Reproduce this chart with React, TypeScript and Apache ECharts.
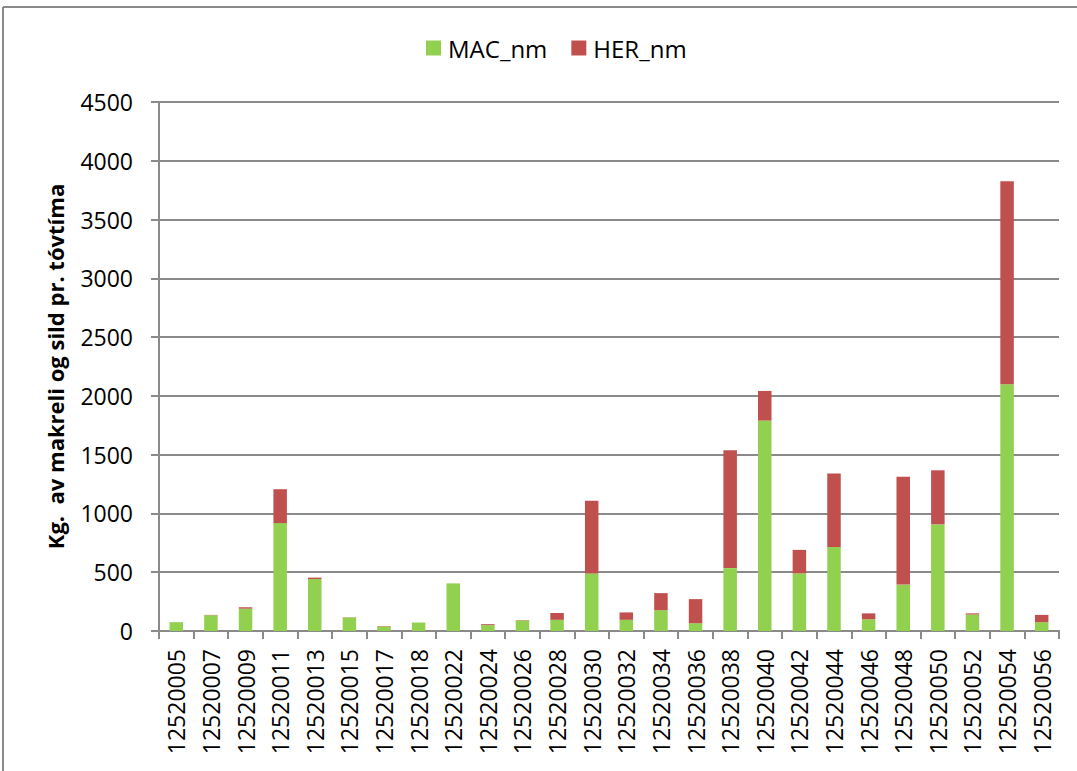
import React, { useEffect, useRef } from "react";
import * as echarts from "echarts";

const categories = [
  "12520005", "12520007", "12520009", "12520011", "12520013", "12520015",
  "12520017", "12520018", "12520022", "12520024", "12520026", "12520028",
  "12520030", "12520032", "12520034", "12520036", "12520038", "12520040",
  "12520042", "12520044", "12520046", "12520048", "12520050", "12520052",
  "12520054", "12520056",
];
const macValues = [
  75, 134, 190, 918, 442, 115, 38, 72, 405, 50, 90, 95,
  490, 95, 177, 66, 535, 1790, 490, 715, 100, 395, 907, 140,
  2100, 75,
];
const herValues = [
  0, 3, 12, 288, 12, 2, 4, 0, 0, 8, 3, 58,
  618, 63, 145, 205, 1003, 252, 200, 625, 50, 918, 460, 10,
  1725, 62,
];
const yTicks = { min: 0, max: 4500, interval: 500 };
const seriesNames = ["MAC_nm", "HER_nm"];
const yTitle = "Kg.  av makreli og sild pr. tóvtíma";

const FONT = "'Open Sans', sans-serif";

export default function App() {
  const ref = useRef<HTMLDivElement>(null);
  useEffect(() => {
    if (!ref.current) return;
    const chart = echarts.init(ref.current, undefined, { renderer: "svg" });
    chart.setOption({
      animation: false,
      backgroundColor: "#ffffff",
      textStyle: { fontFamily: FONT },
      legend: {
        top: 31,
        left: 421,
        itemWidth: 15,
        itemHeight: 15,
        itemGap: 24,
        icon: "rect",
        textStyle: { fontSize: 24, color: "#000", fontFamily: FONT, padding: [0, 0, 0, 2] },
        data: seriesNames,
      },
      grid: { left: 159, right: 18, top: 102, bottom: 140, containLabel: false },
      xAxis: {
        type: "category",
        data: categories,
        boundaryGap: true,
        axisLine: { lineStyle: { color: "#8a8a8a", width: 2 } },
        axisTick: { show: true, length: 8, alignWithLabel: false, lineStyle: { color: "#8a8a8a", width: 2 } },
        axisLabel: { rotate: 90, interval: 0, fontSize: 23, color: "#000", margin: 18, fontFamily: FONT },
      },
      yAxis: {
        type: "value",
        min: yTicks.min,
        max: yTicks.max,
        interval: yTicks.interval,
        name: yTitle,
        nameLocation: "middle",
        nameGap: 93,
        nameRotate: 90,
        nameTextStyle: { fontSize: 22, fontWeight: "bold", color: "#000", fontFamily: FONT },
        axisLine: { show: true, lineStyle: { color: "#8a8a8a", width: 2 } },
        axisTick: { show: true, length: 8, lineStyle: { color: "#8a8a8a", width: 2 } },
        axisLabel: {
          fontSize: 23,
          color: "#000",
          margin: 26,
          fontFamily: FONT,
          formatter: (v: number) => String(v),
        },
        splitLine: { show: true, lineStyle: { color: "#8a8a8a", width: 2 } },
      },
      series: [
        {
          name: seriesNames[0],
          type: "bar",
          stack: "total",
          data: macValues,
          barWidth: "39%",
          itemStyle: { color: "#92D050" },
        },
        {
          name: seriesNames[1],
          type: "bar",
          stack: "total",
          data: herValues,
          barWidth: "39%",
          itemStyle: { color: "#C0504D" },
        },
      ],
      graphic: [
        { type: "line", shape: { x1: 3, y1: 7, x2: 1077, y2: 7 }, style: { stroke: "#8a8a8a", lineWidth: 2 } },
        { type: "line", shape: { x1: 3, y1: 7, x2: 3, y2: 771 }, style: { stroke: "#8a8a8a", lineWidth: 2 } },
      ],
    });
    return () => chart.dispose();
  }, []);
  return (
    <div
      ref={ref}
      style={{ position: "absolute", left: 0, top: 0, width: 1077, height: 771 }}
    />
  );
}
